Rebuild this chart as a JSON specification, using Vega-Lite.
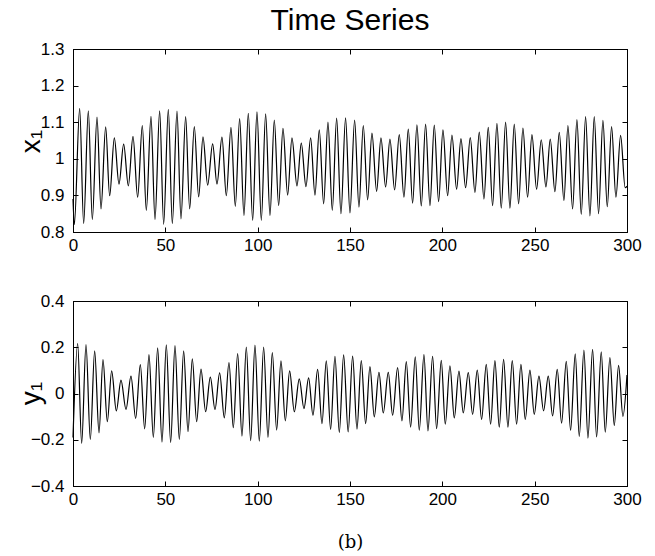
{
  "$schema": "https://vega.github.io/schema/vega-lite/v6.json",
  "background": "white",
  "padding": {"left": 16, "top": 5, "right": 10, "bottom": 5},
  "config": {
    "font": "Liberation Sans",
    "view": {"stroke": "black", "strokeWidth": 1},
    "axis": {"domainColor": "black", "domainWidth": 1, "tickColor": "black", "labelColor": "black", "labelFont": "Liberation Sans", "labelFontSize": 17, "tickSize": -5, "labelPadding": 14, "grid": false, "titleColor": "black", "titleFontWeight": "normal", "labelFlush": false}
  },
  "datasets": {
    "x1": [
      {"t":0,"v":0.89},{"t":0.72,"v":0.82},{"t":3.61,"v":1.138},{"t":5.77,"v":0.823},{"t":8.3,"v":1.131},{"t":10.47,"v":0.834},{"t":13.0,"v":1.114},{"t":15.16,"v":0.863},{"t":17.69,"v":1.087},{"t":19.85,"v":0.899},{"t":22.38,"v":1.057},{"t":24.9,"v":0.931},{"t":27.43,"v":1.04},{"t":29.96,"v":0.926},{"t":32.49,"v":1.061},{"t":35.01,"v":0.895},{"t":37.54,"v":1.091},{"t":39.7,"v":0.859},{"t":42.23,"v":1.116},{"t":44.4,"v":0.834},{"t":46.93,"v":1.131},{"t":49.09,"v":0.821},{"t":51.62,"v":1.135},{"t":53.78,"v":0.823},{"t":56.31,"v":1.13},{"t":58.47,"v":0.836},{"t":61.0,"v":1.115},{"t":63.17,"v":0.863},{"t":65.7,"v":1.088},{"t":68.04,"v":0.896},{"t":70.39,"v":1.06},{"t":72.91,"v":0.928},{"t":75.62,"v":1.041},{"t":77.97,"v":0.931},{"t":80.67,"v":1.059},{"t":83.02,"v":0.899},{"t":85.55,"v":1.086},{"t":87.89,"v":0.87},{"t":90.24,"v":1.11},{"t":92.58,"v":0.845},{"t":94.93,"v":1.124},{"t":97.28,"v":0.832},{"t":99.62,"v":1.128},{"t":101.97,"v":0.832},{"t":104.32,"v":1.123},{"t":106.66,"v":0.845},{"t":109.01,"v":1.106},{"t":111.35,"v":0.872},{"t":113.7,"v":1.083},{"t":116.23,"v":0.901},{"t":118.57,"v":1.057},{"t":121.28,"v":0.926},{"t":123.63,"v":1.043},{"t":126.15,"v":0.924},{"t":128.68,"v":1.057},{"t":131.03,"v":0.901},{"t":133.37,"v":1.079},{"t":135.72,"v":0.877},{"t":138.07,"v":1.1},{"t":140.41,"v":0.859},{"t":142.76,"v":1.111},{"t":145.1,"v":0.85},{"t":147.6,"v":1.112},{"t":149.98,"v":0.852},{"t":152.5,"v":1.106},{"t":154.85,"v":0.868},{"t":157.2,"v":1.091},{"t":159.54,"v":0.888},{"t":161.89,"v":1.07},{"t":164.41,"v":0.911},{"t":166.76,"v":1.057},{"t":169.29,"v":0.923},{"t":171.63,"v":1.054},{"t":174.16,"v":0.915},{"t":176.69,"v":1.066},{"t":179.21,"v":0.895},{"t":181.56,"v":1.081},{"t":183.91,"v":0.879},{"t":186.25,"v":1.093},{"t":188.6,"v":0.871},{"t":190.94,"v":1.095},{"t":193.29,"v":0.872},{"t":195.64,"v":1.092},{"t":197.98,"v":0.883},{"t":200.33,"v":1.079},{"t":202.86,"v":0.899},{"t":205.2,"v":1.065},{"t":207.73,"v":0.917},{"t":210.08,"v":1.055},{"t":212.6,"v":0.921},{"t":215.13,"v":1.058},{"t":217.66,"v":0.908},{"t":220.0,"v":1.073},{"t":222.53,"v":0.89},{"t":224.87,"v":1.086},{"t":227.22,"v":0.872},{"t":229.57,"v":1.097},{"t":231.91,"v":0.865},{"t":234.26,"v":1.1},{"t":236.61,"v":0.865},{"t":238.95,"v":1.095},{"t":241.3,"v":0.877},{"t":243.64,"v":1.084},{"t":246.17,"v":0.895},{"t":248.52,"v":1.066},{"t":251.04,"v":0.917},{"t":253.57,"v":1.052},{"t":256.1,"v":0.923},{"t":258.44,"v":1.054},{"t":260.97,"v":0.91},{"t":263.32,"v":1.072},{"t":265.84,"v":0.886},{"t":268.01,"v":1.091},{"t":270.54,"v":0.863},{"t":272.88,"v":1.107},{"t":275.23,"v":0.848},{"t":277.58,"v":1.115},{"t":279.92,"v":0.844},{"t":282.27,"v":1.115},{"t":284.61,"v":0.85},{"t":286.96,"v":1.105},{"t":289.31,"v":0.869},{"t":291.65,"v":1.088},{"t":294.0,"v":0.895},{"t":296.53,"v":1.064},{"t":299.0,"v":0.921},{"t":300,"v":0.925}
    ],
    "y1": [
      {"t":0,"v":-0.19},{"t":2.53,"v":0.216},{"t":4.69,"v":-0.216},{"t":7.04,"v":0.212},{"t":9.38,"v":-0.199},{"t":11.73,"v":0.184},{"t":14.08,"v":-0.17},{"t":16.24,"v":0.147},{"t":18.59,"v":-0.122},{"t":20.93,"v":0.098},{"t":23.46,"v":-0.075},{"t":25.99,"v":0.058},{"t":28.7,"v":-0.069},{"t":31.4,"v":0.075},{"t":33.93,"v":-0.108},{"t":36.46,"v":0.125},{"t":38.8,"v":-0.153},{"t":41.15,"v":0.168},{"t":43.5,"v":-0.19},{"t":45.84,"v":0.197},{"t":48.19,"v":-0.21},{"t":50.53,"v":0.21},{"t":52.88,"v":-0.212},{"t":55.23,"v":0.207},{"t":57.57,"v":-0.199},{"t":59.92,"v":0.184},{"t":62.27,"v":-0.165},{"t":64.61,"v":0.15},{"t":66.96,"v":-0.122},{"t":69.3,"v":0.105},{"t":71.83,"v":-0.079},{"t":74.36,"v":0.071},{"t":76.89,"v":-0.069},{"t":79.41,"v":0.089},{"t":81.94,"v":-0.105},{"t":84.46,"v":0.134},{"t":86.81,"v":-0.148},{"t":89.16,"v":0.173},{"t":91.5,"v":-0.184},{"t":93.85,"v":0.201},{"t":96.2,"v":-0.204},{"t":98.54,"v":0.209},{"t":100.89,"v":-0.206},{"t":103.23,"v":0.201},{"t":105.58,"v":-0.19},{"t":107.93,"v":0.177},{"t":110.27,"v":-0.158},{"t":112.62,"v":0.141},{"t":114.97,"v":-0.118},{"t":117.31,"v":0.098},{"t":119.84,"v":-0.079},{"t":122.54,"v":0.063},{"t":125.07,"v":-0.065},{"t":127.6,"v":0.068},{"t":129.94,"v":-0.094},{"t":132.47,"v":0.104},{"t":134.82,"v":-0.13},{"t":137.16,"v":0.141},{"t":139.51,"v":-0.155},{"t":141.86,"v":0.161},{"t":144.2,"v":-0.168},{"t":146.55,"v":0.167},{"t":149.0,"v":-0.166},{"t":151.42,"v":0.162},{"t":153.77,"v":-0.154},{"t":156.11,"v":0.142},{"t":158.46,"v":-0.13},{"t":160.8,"v":0.116},{"t":163.15,"v":-0.101},{"t":165.68,"v":0.091},{"t":168.02,"v":-0.084},{"t":170.73,"v":0.091},{"t":173.08,"v":-0.094},{"t":175.78,"v":0.112},{"t":178.13,"v":-0.119},{"t":180.48,"v":0.138},{"t":182.82,"v":-0.145},{"t":185.35,"v":0.159},{"t":187.52,"v":-0.159},{"t":190.04,"v":0.168},{"t":192.21,"v":-0.162},{"t":194.73,"v":0.161},{"t":196.9,"v":-0.152},{"t":199.43,"v":0.143},{"t":201.59,"v":-0.133},{"t":204.12,"v":0.12},{"t":206.47,"v":-0.106},{"t":208.99,"v":0.097},{"t":211.34,"v":-0.084},{"t":214.05,"v":0.09},{"t":216.39,"v":-0.09},{"t":218.92,"v":0.101},{"t":221.26,"v":-0.112},{"t":223.79,"v":0.126},{"t":226.14,"v":-0.133},{"t":228.48,"v":0.142},{"t":230.83,"v":-0.145},{"t":233.18,"v":0.148},{"t":235.52,"v":-0.145},{"t":237.87,"v":0.142},{"t":240.22,"v":-0.133},{"t":242.56,"v":0.126},{"t":244.91,"v":-0.112},{"t":247.43,"v":0.101},{"t":249.78,"v":-0.09},{"t":252.31,"v":0.075},{"t":254.83,"v":-0.075},{"t":257.36,"v":0.075},{"t":259.71,"v":-0.097},{"t":262.23,"v":0.104},{"t":264.58,"v":-0.128},{"t":267.11,"v":0.139},{"t":269.45,"v":-0.159},{"t":271.98,"v":0.171},{"t":274.15,"v":-0.186},{"t":276.67,"v":0.188},{"t":278.84,"v":-0.193},{"t":281.37,"v":0.191},{"t":283.53,"v":-0.188},{"t":286.06,"v":0.18},{"t":288.22,"v":-0.167},{"t":290.75,"v":0.155},{"t":293.1,"v":-0.138},{"t":295.44,"v":0.122},{"t":297.79,"v":-0.099},{"t":300,"v":0.08}
    ]
  },
  "spacing": 37,
  "vconcat": [
    {
      "title": {"text": "Time Series", "fontSize": 30, "fontWeight": "normal", "color": "black", "font": "Liberation Sans", "offset": 4},
      "width": 554,
      "height": 183,
      "data": {"name": "x1"},
      "layer": [
        {
          "mark": {"type": "line", "color": "black", "strokeWidth": 1.2, "interpolate": "monotone"},
          "encoding": {
            "x": {"field": "t", "type": "quantitative", "scale": {"domain": [0, 300], "nice": false}, "axis": {"values": [0, 50, 100, 150, 200, 250, 300], "title": null, "labelPadding": 10}},
            "y": {"field": "v", "type": "quantitative", "scale": {"domain": [0.8, 1.3], "nice": false, "zero": false}, "axis": {"values": [0.8, 0.9, 1, 1.1, 1.2, 1.3], "format": "~g", "title": "x₁", "titleFontSize": 28, "titleX": -28, "titleY": 92, "titleAngle": -90, "titleAlign": "center", "titleBaseline": "bottom"}}
          }
        },
        {
          "mark": {"type": "line", "color": "black", "strokeOpacity": 0, "interpolate": "monotone"},
          "encoding": {
            "x": {"field": "t", "type": "quantitative", "scale": {"domain": [0, 300], "nice": false}, "axis": {"orient": "top", "values": [0, 50, 100, 150, 200, 250, 300], "labels": false, "title": null}},
            "y": {"field": "v", "type": "quantitative", "scale": {"domain": [0.8, 1.3], "nice": false, "zero": false}, "axis": {"orient": "right", "values": [0.8, 0.9, 1, 1.1, 1.2, 1.3], "labels": false, "title": null}}
          }
        }
      ],
      "resolve": {"axis": {"x": "independent", "y": "independent"}}
    },
    {
      "width": 554,
      "height": 185,
      "data": {"name": "y1"},
      "layer": [
        {
          "mark": {"type": "line", "color": "black", "strokeWidth": 1.2, "interpolate": "monotone"},
          "encoding": {
            "x": {"field": "t", "type": "quantitative", "scale": {"domain": [0, 300], "nice": false}, "axis": {"values": [0, 50, 100, 150, 200, 250, 300], "title": "(b)", "titleFont": "DejaVu Serif", "titleFontSize": 18, "titlePadding": 26, "labelPadding": 10}},
            "y": {"field": "v", "type": "quantitative", "scale": {"domain": [-0.4, 0.4], "nice": false, "zero": false}, "axis": {"values": [-0.4, -0.2, 0, 0.2, 0.4], "format": "~g", "title": "y₁", "titleFontSize": 28, "titleX": -28, "titleY": 92, "titleAngle": -90, "titleAlign": "center", "titleBaseline": "bottom"}}
          }
        },
        {
          "mark": {"type": "line", "color": "black", "strokeOpacity": 0, "interpolate": "monotone"},
          "encoding": {
            "x": {"field": "t", "type": "quantitative", "scale": {"domain": [0, 300], "nice": false}, "axis": {"orient": "top", "values": [0, 50, 100, 150, 200, 250, 300], "labels": false, "title": null}},
            "y": {"field": "v", "type": "quantitative", "scale": {"domain": [-0.4, 0.4], "nice": false, "zero": false}, "axis": {"orient": "right", "values": [-0.4, -0.2, 0, 0.2, 0.4], "labels": false, "title": null}}
          }
        }
      ],
      "resolve": {"axis": {"x": "independent", "y": "independent"}}
    }
  ]
}
